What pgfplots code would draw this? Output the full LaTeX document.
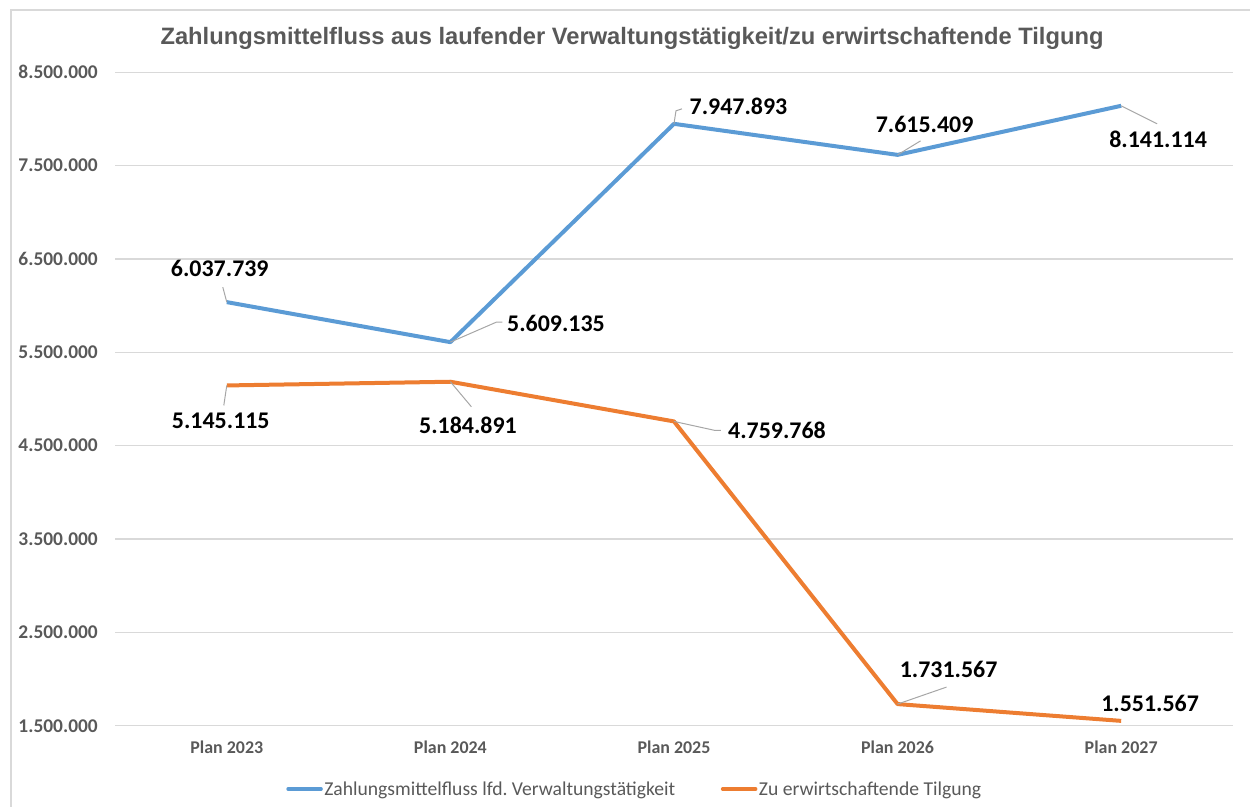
\documentclass[border=0pt]{standalone}
\usepackage{pgfplots}
\pgfplotsset{compat=1.18}
\usepackage{fontspec}
\setmainfont{Carlito}
\newfontfamily\titlefont{Liberation Sans}
\frenchspacing
\definecolor{sblue}{HTML}{5B9BD5}
\definecolor{sorange}{HTML}{ED7D31}
\definecolor{gridgray}{HTML}{D9D9D9}
\definecolor{textgray}{HTML}{595959}
\definecolor{leadgray}{HTML}{A6A6A6}
\tikzset{
  lbl/.style={font=\bfseries\fontsize{24}{26}\selectfont, text=black, inner sep=0pt},
  lead/.style={leadgray, line width=1bp},
}
\begin{document}
\begin{tikzpicture}
\path[use as bounding box] (0,0) rectangle (1250bp,807bp);
\draw[gridgray, line width=1.5bp] (11bp,0bp) -- (11bp,797bp) -- (1250bp,797bp);
\node[font=\titlefont\bfseries\fontsize{23.8}{27}\selectfont, text=textgray, anchor=base] at (632bp,762bp) {Zahlungsmittelfluss aus laufender Verwaltungstätigkeit/zu erwirtschaftende Tilgung};
\begin{axis}[
  at={(115bp,81.3bp)}, anchor=south west,
  scale only axis, width=1118bp, height=653.4bp,
  xmin=-0.5, xmax=4.5, ymin=1500000, ymax=8500000,
  axis line style={draw=none},
  major tick length=0pt,
  ymajorgrids, grid style={color=gridgray, line width=1.2bp},
  xtick={0,1,2,3,4},
  xticklabels={Plan 2023,Plan 2024,Plan 2025,Plan 2026,Plan 2027},
  ytick={1500000,2500000,3500000,4500000,5500000,6500000,7500000,8500000},
  yticklabels={1.500.000,2.500.000,3.500.000,4.500.000,5.500.000,6.500.000,7.500.000,8.500.000},
  scaled y ticks=false,
  xticklabel style={font=\bfseries\fontsize{18}{20}\selectfont, text=textgray, anchor=north, inner sep=0pt, yshift=-15bp},
  yticklabel style={font=\bfseries\fontsize{19.5}{21}\selectfont, text=textgray, anchor=east, inner sep=0pt, xshift=-17bp},
  legend style={draw=none, at={(axis description cs:0.4647,-0.0969)}, anchor=center,
    font=\fontsize{19.7}{21}\selectfont, text=textgray, legend columns=2,
    /tikz/every even column/.append style={column sep=44bp},
    nodes={inner sep=1.5bp}},
  legend image code/.code={\draw[line width=3.5bp, line cap=round] (0bp,0bp) -- (33bp,0bp);},
  clip=false,
  every axis plot/.append style={line width=4bp, line join=round, mark=none},
]
\addplot[sblue] coordinates {(0,6037739) (1,5609135) (2,7947893) (3,7615409) (4,8141114)};
\addlegendentry{Zahlungsmittelfluss lfd. Verwaltungstätigkeit}
\addplot[sorange] coordinates {(0,5145115) (1,5184891) (2,4759768) (3,1731567) (4,1551567)};
\addlegendentry{Zu erwirtschaftende Tilgung}
% leaders
\draw[lead] (axis cs:0,6037739) -- ++(-4bp,15bp);
\draw[lead] (axis cs:1,5609135) -- ++(46bp,20bp) -- ++(6bp,0bp);
\draw[lead] (axis cs:2,7947893) -- ++(2bp,13bp) -- ++(6bp,2bp);
\draw[lead] (axis cs:3,7615409) -- ++(23bp,14bp);
\draw[lead] (axis cs:4,8141114) -- ++(36bp,-18bp);
\draw[lead] (axis cs:0,5145115) -- ++(-3bp,-20bp);
\draw[lead] (axis cs:1,5184891) -- ++(21bp,-25bp);
\draw[lead] (axis cs:2,4759768) -- ++(41bp,-9bp) -- ++(6bp,0bp);
\draw[lead] (axis cs:3,1731567) -- ++(49bp,17bp);
% labels
\node[lbl] at ([xshift=-7bp,yshift=34bp]axis cs:0,6037739) {6.037.739};
\node[lbl] at ([xshift=105.6bp,yshift=19bp]axis cs:1,5609135) {5.609.135};
\node[lbl] at ([xshift=64.5bp,yshift=17bp]axis cs:2,7947893) {7.947.893};
\node[lbl] at ([xshift=27bp,yshift=30bp]axis cs:3,7615409) {7.615.409};
\node[lbl] at ([xshift=37bp,yshift=-34bp]axis cs:4,8141114) {8.141.114};
\node[lbl] at ([xshift=-6bp,yshift=-35.5bp]axis cs:0,5145115) {5.145.115};
\node[lbl] at ([xshift=17.6bp,yshift=-44bp]axis cs:1,5184891) {5.184.891};
\node[lbl] at ([xshift=103bp,yshift=-9bp]axis cs:2,4759768) {4.759.768};
\node[lbl] at ([xshift=51bp,yshift=34.5bp]axis cs:3,1731567) {1.731.567};
\node[lbl] at ([xshift=29bp,yshift=17.6bp]axis cs:4,1551567) {1.551.567};
\end{axis}
\end{tikzpicture}
\end{document}
